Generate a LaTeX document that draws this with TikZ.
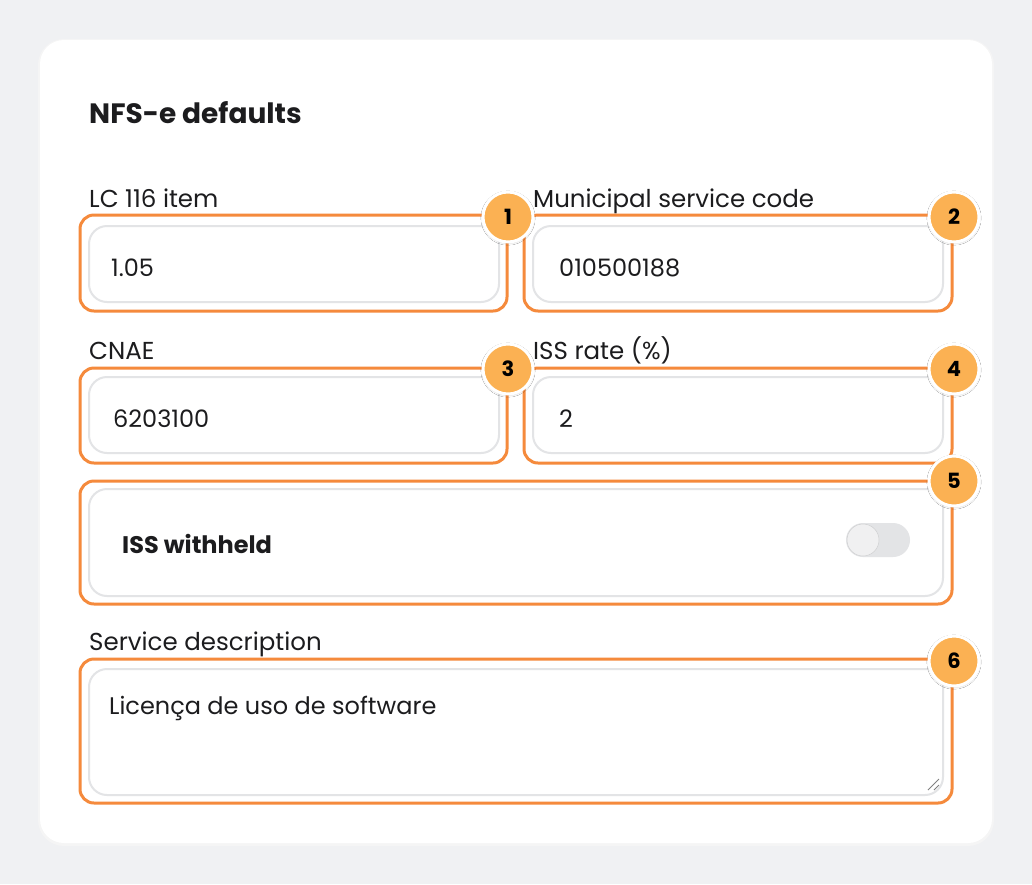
\documentclass[tikz,border=0pt]{standalone}
\usepackage{fontspec}
\setmainfont{Poppins}
\usetikzlibrary{shadows.blur}
\definecolor{bg}{HTML}{F0F1F3}
\definecolor{orng}{HTML}{F58A3C}
\definecolor{badge}{HTML}{FBB153}
\definecolor{fld}{HTML}{E3E4E6}
\definecolor{txt}{HTML}{1C1C1E}
\begin{document}
\begin{tikzpicture}[x=1pt,y=-1pt,
 field/.style={draw=fld,line width=2pt,rounded corners=18pt,fill=white},
 hl/.style={draw=orng,line width=3pt,rounded corners=14pt},
 lbl/.style={anchor=base west,inner sep=0,font=\fontsize{24.5}{28}\selectfont,text=txt},
 val/.style={anchor=west,inner sep=0,font=\fontsize{24}{28}\selectfont,text=txt},
 bdg/.style={circle,fill=badge,draw=white,line width=3pt,minimum size=50pt,inner sep=0,font=\fontsize{21}{24}\bfseries\selectfont,text=black,blur shadow={shadow blur steps=6,shadow xshift=0pt,shadow yshift=-1pt,shadow opacity=25}}]
\useasboundingbox (0,0) rectangle (1032,884);
\fill[bg] (0,0) rectangle (1032,884);
\fill[black!4,rounded corners=26pt] (38,39) rectangle (994,846);
\fill[white,rounded corners=24pt] (40,40) rectangle (992,843);
\node[lbl,font=\fontsize{28}{32}\bfseries\selectfont] (title) at (89,123) {NFS-e defaults};
\node[lbl] (l1) at (89,207) {LC 116 item};
\node[lbl] (l2) at (533,207) {Municipal service code};
\node[lbl] (l3) at (89,359) {CNAE};
\node[lbl] (l4) at (533,359) {ISS rate (\%)};
\node[lbl] (l6) at (89,650) {Service description};
% fields
\draw[field] (89,226) rectangle (499,302);
\draw[field] (533,226) rectangle (943,302);
\draw[field] (89,377) rectangle (499,453);
\draw[field] (533,377) rectangle (943,453);
\draw[field] (89,489) rectangle (943,596);
\draw[field] (89,669) rectangle (943,795);
\node[val] (v1) at (111,268) {1.05};
\node[val] (v2) at (559,268) {010500188};
\node[val] (v3) at (113,419) {6203100};
\node[val] (v4) at (559,419) {2};
\node[val,font=\fontsize{24}{28}\selectfont\bfseries] (v5) at (122,544) {ISS withheld};
\node[val] (v6) at (109,708) {Licença de uso de software};
% toggle
\fill[fld,rounded corners=17pt] (846,523) rectangle (910,557);
\fill[fld!55!white,draw=fld!80!gray,line width=0.5pt] (863,540) circle (16);
% resize grip
\draw[gray,line width=1pt] (928,790) -- (939,779) (934,790) -- (939,785);
% highlights
\draw[hl] (80,215) rectangle (507,311);
\draw[hl] (524,215) rectangle (952,311);
\draw[hl] (80,368) rectangle (507,463);
\draw[hl] (524,368) rectangle (952,463);
\draw[hl] (80,481) rectangle (952,604);
\draw[hl] (80,659) rectangle (952,803);
% badges
\node[bdg] (b1) at (508,217) {1};
\node[bdg] (b2) at (954,217) {2};
\node[bdg] (b3) at (508,369) {3};
\node[bdg] (b4) at (954,369) {4};
\node[bdg] (b5) at (954,481) {5};
\node[bdg] (b6) at (954,661) {6};
\end{tikzpicture}
\end{document}
